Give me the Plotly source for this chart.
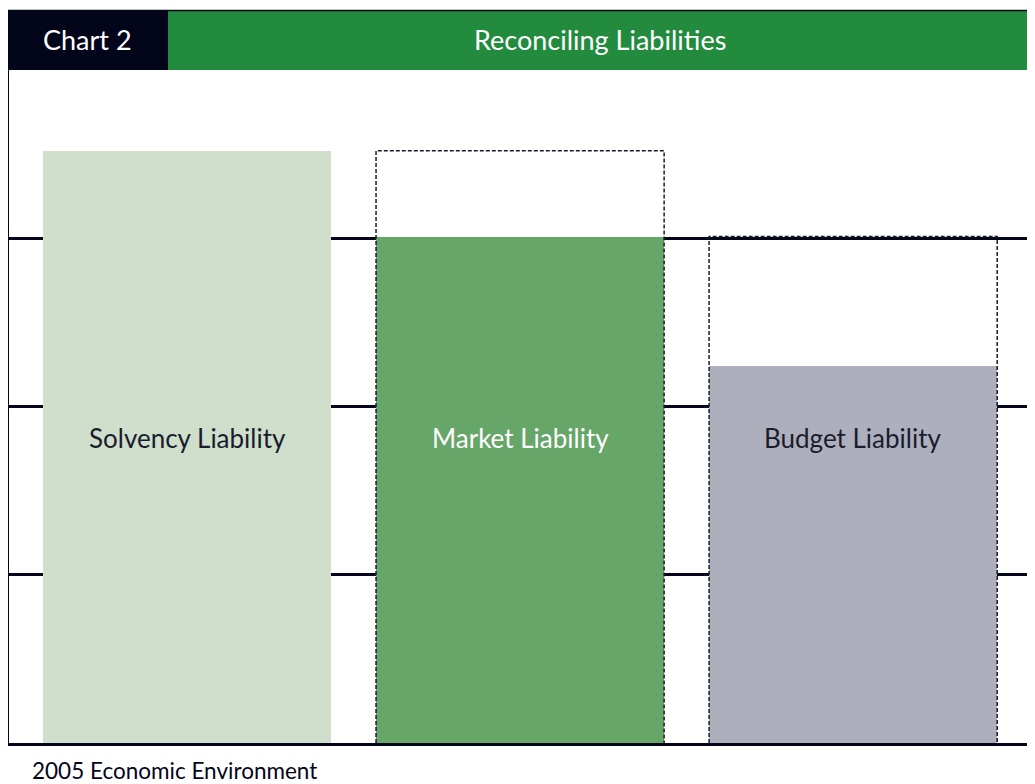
import plotly.graph_objects as go

categories = ["Solvency Liability", "Market Liability", "Budget Liability"]
values = [3.52, 3.01, 2.24]
reference_values = [None, 3.52, 3.01]  # dashed outline: level of previous liability
bar_colors = ["#cfdfcc", "#66a668", "#adb0bc"]
label_colors = ["#1a1c2e", "#ffffff", "#1a1c2e"]
label_level = 1.81
chart_number = "Chart 2"
chart_title = "Reconciling Liabilities"
caption = "2005 Economic Environment"

NAVY = "#03051a"
GREEN = "#238b3e"
FONT = "Lato"
W = 0.865

PW = 1026.0  # plot width in px
PH = 673.0   # plot height in px

fig = go.Figure()

# dashed outlines (drawn first, beneath bars)
for i, ref in enumerate(reference_values):
    if ref is None:
        continue
    fig.add_trace(go.Scatter(
        x=[i - W / 2, i - W / 2, i + W / 2, i + W / 2],
        y=[0, ref, ref, 0],
        mode="lines",
        line=dict(color="#1a1c2e", width=1.5, dash="4px,2px"),
        hoverinfo="skip", showlegend=False,
    ))

fig.add_trace(go.Bar(
    x=list(range(len(categories))),
    y=values,
    width=W,
    marker=dict(color=bar_colors, line=dict(width=0)),
    showlegend=False,
    hoverinfo="skip",
))

for i, (name, col) in enumerate(zip(categories, label_colors)):
    fig.add_annotation(
        x=i, y=label_level, xref="x", yref="y", text=name, showarrow=False,
        font=dict(family=FONT, size=26, color=col),
    )

# header
split = (160 - 1) / PW
fig.add_shape(type="rect", xref="paper", yref="paper", x0=-0.002, x1=split,
              y0=1, y1=1 + 60 / PH, fillcolor=NAVY, line=dict(width=0), layer="above")
fig.add_shape(type="rect", xref="paper", yref="paper", x0=split, x1=1,
              y0=1, y1=1 + 59 / PH, fillcolor=GREEN, line=dict(width=0), layer="above")
fig.add_shape(type="line", xref="paper", yref="paper", x0=-0.002, x1=1,
              y0=1 + 59.5 / PH, y1=1 + 59.5 / PH, line=dict(color=NAVY, width=1.5), layer="above")

fig.add_annotation(xref="paper", yref="paper", x=(79 - 1) / PW, y=1 + 30 / PH,
                   text=chart_number, showarrow=False, xanchor="center", yanchor="middle",
                   font=dict(family=FONT, size=27, color="white"))
fig.add_annotation(xref="paper", yref="paper", x=(592 - 1) / PW, y=1 + 30 / PH,
                   text=chart_title, showarrow=False, xanchor="center", yanchor="middle",
                   font=dict(family=FONT, size=27, color="white"))
fig.add_annotation(xref="paper", yref="paper", x=(22 - 1) / PW, y=-27 / PH,
                   text=caption, showarrow=False, xanchor="left", yanchor="middle",
                   font=dict(family=FONT, size=22.5, color=NAVY))

fig.update_layout(
    width=1027, height=776,
    margin=dict(l=1, r=0, t=62, b=41),
    paper_bgcolor="white", plot_bgcolor="white",
    bargap=0,
    xaxis=dict(range=[-0.5345, 2.546], showgrid=False, zeroline=False, showticklabels=False,
               ticks="", showline=True, linecolor=NAVY, linewidth=3, fixedrange=True),
    yaxis=dict(range=[0, 4], dtick=1, showgrid=True, gridcolor=NAVY, gridwidth=2.5,
               zeroline=False, showticklabels=False, ticks="", showline=True,
               linecolor=NAVY, linewidth=3, fixedrange=True),
)

fig.write_html("out.html")
